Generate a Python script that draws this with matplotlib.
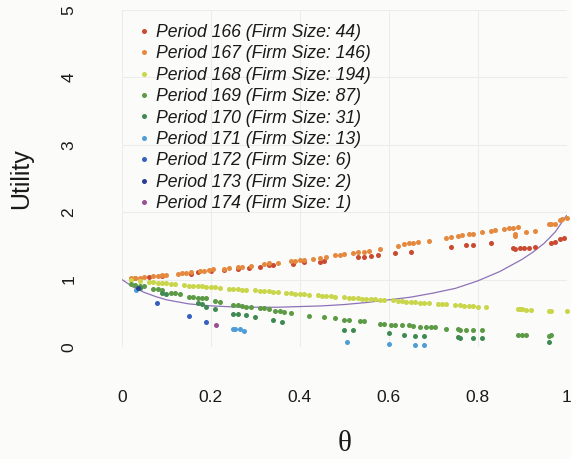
import matplotlib
matplotlib.use("Agg")
import matplotlib.pyplot as plt
from matplotlib.lines import Line2D

# theta / utility readings for each period
p166_theta = [0.03, 0.06, 0.09, 0.155, 0.17, 0.20, 0.23, 0.26, 0.285, 0.31, 0.33, 0.34,
              0.385, 0.41, 0.445, 0.455, 0.53, 0.545, 0.56, 0.575, 0.615, 0.65, 0.74,
              0.775, 0.79, 0.83, 0.88, 0.885, 0.895, 0.905, 0.915, 0.93, 0.965, 0.975,
              0.985, 0.995]
p166_util = [1.02, 1.04, 1.05, 1.08, 1.11, 1.13, 1.14, 1.16, 1.17, 1.19, 1.21, 1.22,
             1.23, 1.26, 1.26, 1.27, 1.34, 1.34, 1.35, 1.36, 1.40, 1.41, 1.49,
             1.51, 1.51, 1.54, 1.47, 1.45, 1.47, 1.47, 1.47, 1.49, 1.55, 1.56,
             1.60, 1.62]

p167_theta = [0.02, 0.03, 0.04, 0.05, 0.07, 0.08, 0.09, 0.10, 0.125, 0.135, 0.145, 0.155,
              0.175, 0.185, 0.195, 0.205, 0.23, 0.24, 0.26, 0.27, 0.29, 0.32, 0.33, 0.35,
              0.38, 0.39, 0.40, 0.41, 0.43, 0.445, 0.46, 0.48, 0.49, 0.50, 0.52, 0.53,
              0.545, 0.555, 0.58, 0.62, 0.635, 0.645, 0.655, 0.665, 0.69, 0.73, 0.74,
              0.755, 0.765, 0.78, 0.79, 0.81, 0.83, 0.84, 0.86, 0.87, 0.88, 0.89,
              0.885, 0.885, 0.91, 0.93, 0.96, 0.965, 0.975, 0.985, 0.99, 1.0]
p167_util = [1.02, 1.02, 1.03, 1.04, 1.05, 1.06, 1.07, 1.07, 1.09, 1.10, 1.10, 1.11,
             1.13, 1.13, 1.14, 1.15, 1.16, 1.17, 1.18, 1.19, 1.20, 1.23, 1.24, 1.25,
             1.27, 1.28, 1.29, 1.29, 1.31, 1.32, 1.33, 1.36, 1.37, 1.38, 1.40, 1.41,
             1.41, 1.42, 1.46, 1.50, 1.53, 1.54, 1.55, 1.56, 1.58, 1.62, 1.63,
             1.64, 1.66, 1.67, 1.68, 1.70, 1.72, 1.73, 1.75, 1.76, 1.77, 1.78,
             1.64, 1.67, 1.71, 1.72, 1.82, 1.83, 1.83, 1.88, 1.90, 1.92]

p168_theta = [0.02, 0.04, 0.06, 0.07, 0.08, 0.09, 0.10, 0.11, 0.12, 0.14, 0.15, 0.16,
              0.17, 0.18, 0.19, 0.20, 0.21, 0.22, 0.24, 0.25, 0.26, 0.27, 0.28, 0.30,
              0.31, 0.32, 0.33, 0.34, 0.35, 0.37, 0.38, 0.39, 0.40, 0.41, 0.42, 0.44,
              0.45, 0.46, 0.47, 0.48, 0.50, 0.51, 0.52, 0.53, 0.54, 0.55, 0.56, 0.57,
              0.58, 0.59, 0.61, 0.62, 0.63, 0.64, 0.65, 0.66, 0.67, 0.68, 0.69, 0.71,
              0.72, 0.73, 0.75, 0.76, 0.77, 0.78, 0.79, 0.80, 0.82, 0.89, 0.895, 0.90,
              0.91, 0.92, 0.96, 0.965, 1.0]
p168_util = [0.99, 0.98, 0.965, 0.96, 0.955, 0.95, 0.95, 0.94, 0.935, 0.915, 0.91, 0.905,
             0.90, 0.90, 0.895, 0.89, 0.885, 0.88, 0.865, 0.86, 0.855, 0.85, 0.845, 0.84,
             0.835, 0.83, 0.825, 0.82, 0.81, 0.80, 0.795, 0.79, 0.785, 0.78, 0.775, 0.765,
             0.76, 0.755, 0.75, 0.745, 0.735, 0.73, 0.725, 0.72, 0.715, 0.71, 0.71, 0.705,
             0.70, 0.70, 0.69, 0.685, 0.68, 0.675, 0.67, 0.665, 0.66, 0.66, 0.655, 0.645,
             0.64, 0.635, 0.625, 0.62, 0.615, 0.61, 0.605, 0.60, 0.595, 0.56, 0.57, 0.56,
             0.555, 0.55, 0.53, 0.54, 0.53]

p169_theta = [0.02, 0.03, 0.04, 0.05, 0.07, 0.08, 0.09, 0.11, 0.12, 0.13, 0.15, 0.16,
              0.17, 0.18, 0.19, 0.21, 0.22, 0.25, 0.26, 0.27, 0.28, 0.29, 0.31, 0.32,
              0.33, 0.345, 0.355, 0.365, 0.38, 0.42, 0.455, 0.48, 0.50, 0.51, 0.535,
              0.545, 0.58, 0.59, 0.605, 0.615, 0.63, 0.645, 0.655, 0.67, 0.685, 0.695,
              0.705, 0.73, 0.755, 0.76, 0.775, 0.79, 0.81, 0.89, 0.90, 0.91, 0.96, 0.965]
p169_util = [0.94, 0.92, 0.91, 0.90, 0.86, 0.86, 0.85, 0.80, 0.80, 0.79, 0.74, 0.735,
             0.73, 0.73, 0.72, 0.68, 0.67, 0.62, 0.62, 0.61, 0.60, 0.60, 0.58, 0.575,
             0.56, 0.53, 0.53, 0.52, 0.50, 0.46, 0.45, 0.43, 0.40, 0.40, 0.39,
             0.385, 0.34, 0.34, 0.33, 0.33, 0.32, 0.32, 0.31, 0.30, 0.29, 0.29,
             0.29, 0.27, 0.27, 0.25, 0.25, 0.25, 0.245, 0.18, 0.18, 0.18, 0.17, 0.175]

p170_theta = [0.04, 0.09, 0.10, 0.17, 0.18, 0.19, 0.21, 0.25, 0.26, 0.28, 0.30, 0.34,
              0.36, 0.50, 0.52, 0.60, 0.635, 0.66, 0.68, 0.755, 0.76, 0.79, 0.81, 0.96]
p170_util = [0.88, 0.80, 0.79, 0.65, 0.645, 0.60, 0.56, 0.49, 0.49, 0.48, 0.45, 0.40,
             0.375, 0.25, 0.245, 0.21, 0.18, 0.165, 0.165, 0.15, 0.13, 0.13, 0.13, 0.08]

p171_theta = [0.032, 0.25, 0.255, 0.265, 0.275, 0.506, 0.60, 0.66, 0.68]
p171_util = [0.85, 0.27, 0.27, 0.265, 0.24, 0.074, 0.05, 0.025, 0.025]

p172_theta = [0.078, 0.15, 0.188]
p172_util = [0.66, 0.455, 0.375]

p173_theta = [0.035]
p173_util = [0.87]

p174_theta = [0.212]
p174_util = [0.33]

# utility curve drawn across theta
curve_theta = [0.0, 0.025, 0.05, 0.075, 0.1, 0.15, 0.2, 0.25, 0.3, 0.35, 0.4, 0.45,
               0.5, 0.55, 0.6, 0.65, 0.7, 0.75, 0.8, 0.85, 0.9, 0.925, 0.95, 0.975, 1.0]
curve_util = [1.0, 0.89, 0.81, 0.75, 0.70, 0.64, 0.61, 0.595, 0.59, 0.59, 0.60, 0.61,
              0.63, 0.66, 0.70, 0.74, 0.80, 0.87, 0.98, 1.12, 1.30, 1.41, 1.54, 1.71, 1.95]

periods = ["166", "167", "168", "169", "170", "171", "172", "173", "174"]
firm_sizes = [44, 146, 194, 87, 31, 13, 6, 2, 1]
colors = ["#c94a30", "#e5893e", "#c9d64a", "#5c9a45", "#3f8a52",
          "#4f9dd6", "#3560c0", "#2a3f93", "#9a4f96"]

series = [(p166_theta, p166_util), (p167_theta, p167_util), (p168_theta, p168_util),
          (p169_theta, p169_util), (p170_theta, p170_util), (p171_theta, p171_util),
          (p172_theta, p172_util), (p173_theta, p173_util), (p174_theta, p174_util)]

plt.rcParams["font.family"] = ["Liberation Sans", "DejaVu Sans"]

fig = plt.figure(figsize=(5.71, 4.59), dpi=100, facecolor="#fbfbfa")
ax = fig.add_axes([122 / 571, 112 / 459, 444.5 / 571, 337 / 459])
ax.set_facecolor("#fbfbfa")

ax.set_xlim(0, 1)
ax.set_ylim(0, 5)
ax.grid(True, color="#ececec", lw=0.8)
ax.set_axisbelow(True)

ax.plot(curve_theta, curve_util, color="#8d72b8", lw=0.9, zorder=2)

handles = []
for (xs, ys), per, size, col in zip(series, periods, firm_sizes, colors):
    ax.scatter(xs, ys, s=13, color=col, linewidths=0, zorder=3, clip_on=False)
    handles.append(Line2D([], [], ls="none", marker="o", markersize=3.6,
                          markerfacecolor=col, markeredgewidth=0,
                          label=f"Period {per} (Firm Size: {size})"))

leg = ax.legend(handles=handles, loc="upper left", bbox_to_anchor=(140 / 571, 1 - 24 / 459),
                bbox_transform=fig.transFigure, frameon=False, handlelength=0.5,
                handletextpad=0.42, labelspacing=0.25, borderpad=0, borderaxespad=0,
                prop={"style": "italic", "size": 12.7})
for t in leg.get_texts():
    t.set_color("#1a1a1a")

for s in ax.spines.values():
    s.set_visible(False)

ax.set_xticks([0, 0.2, 0.4, 0.6, 0.8, 1.0])
ax.set_xticklabels(["0", "0.2", "0.4", "0.6", "0.8", "1"])
ax.set_yticks([0, 1, 2, 3, 4, 5])
ax.tick_params(axis="x", length=0, pad=31, labelsize=12.5, labelcolor="#1a1a1a")
ax.tick_params(axis="y", length=0, pad=33, labelsize=12.5, labelcolor="#1a1a1a",
               labelrotation=90)
for lab in ax.get_yticklabels():
    lab.set_va("center")

ax.set_ylabel("Utility", fontsize=18, color="#1a1a1a", labelpad=20)
ax.set_xlabel("θ", fontsize=21, family="Liberation Serif", color="#1a1a1a", labelpad=19)

fig.savefig("out.png", dpi=100, facecolor=fig.get_facecolor())
